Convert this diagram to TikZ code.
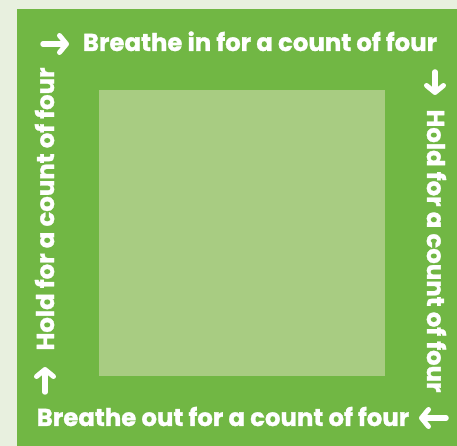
\documentclass[tikz,border=0pt]{standalone}
\usepackage{fontspec}
\setmainfont{Poppins}[BoldFeatures={FakeBold=1.2}]
\usepackage{tikz}
\usetikzlibrary{positioning,arrows.meta}

\definecolor{paper}{HTML}{E8F0DF}
\definecolor{boxgreen}{HTML}{71B744}
\definecolor{innergreen}{HTML}{A8CC82}

\tikzset{
  steplabel/.style={text=white, font=\bfseries\fontsize{24.4}{24}\selectfont, inner sep=0pt},
  steparrow/.style={draw=white, line width=5.5pt, line cap=round,
    -{Straight Barb[round, length=7pt, width=17pt, line width=5pt]}}
}

\begin{document}
\begin{tikzpicture}[x=1pt, y=1pt]
  % Draw background and frame
  \fill[paper] (0,0) rectangle (457,446);
  \useasboundingbox (0,0) rectangle (457,446);
  \fill[boxgreen] (17,0) rectangle (457,437);
  \fill[innergreen] (99,70) rectangle (385,356);

  % Labels along each side
  \node[steplabel, anchor=base] (breathein) at (260,395) {Breathe in for a count of four};
  \node[steplabel, anchor=base, rotate=-90] (holdright) at (427,195) {Hold for a count of four};
  \node[steplabel, anchor=base] (breatheout) at (223,20) {Breathe out for a count of four};
  \node[steplabel, anchor=base, rotate=90] (holdleft) at (54,237) {Hold for a count of four};

  % Arrows at the corners
  \coordinate (inA) at (43,402);  \coordinate (inB) at (69,402);
  \coordinate (rdA) at (435,374); \coordinate (rdB) at (435,351);
  \coordinate (ouA) at (446,28);  \coordinate (ouB) at (419,28);
  \coordinate (luA) at (45,54);   \coordinate (luB) at (45,79);
  \draw[steparrow] (inA) -- (inB);
  \draw[steparrow] (rdA) -- (rdB);
  \draw[steparrow] (ouA) -- (ouB);
  \draw[steparrow] (luA) -- (luB);
\end{tikzpicture}
\end{document}
